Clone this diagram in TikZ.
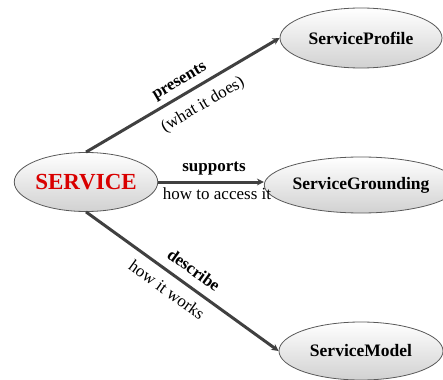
\documentclass[tikz,border=0pt]{standalone}
\usepackage{fontspec}
\setmainfont{Liberation Serif}
\usetikzlibrary{arrows.meta,shapes.geometric}
\begin{document}
\begin{tikzpicture}[x=1pt,y=-1pt,
  ell/.style={ellipse, draw=black!65, line width=0.8pt, top color=white, bottom color=black!18,
    inner sep=0pt, font=\fontsize{17.5}{20}\selectfont\bfseries},
  conn/.style={line width=3pt, draw=black!75, -{Stealth[length=7pt,width=7pt]}},
  lbl/.style={font=\fontsize{17}{20}\selectfont, inner sep=0pt},
  lblb/.style={font=\fontsize{17}{20}\selectfont\bfseries, inner sep=0pt}]
\useasboundingbox (0,0) rectangle (443,379);
\node[ell, minimum width=142pt, minimum height=59pt, text=red!85!black,
  font=\fontsize{23}{26}\selectfont\bfseries] (S) at (86,182) {SERVICE};
\node[ell, minimum width=162pt, minimum height=60pt] (P) at (361,38) {ServiceProfile};
\node[ell, minimum width=160pt, minimum height=56pt] (G) at (361,185) {ServiceGrounding};
\node[ell, minimum width=164pt, minimum height=58pt] (M) at (361,351) {ServiceModel};
\draw[conn] (S.north) -- (P.west);
\draw[conn] (S.east) -- (S.east -| G.west);
\draw[conn] (S.south) -- (M.west);
\node[lblb, rotate=30.5] (l1) at (180,82) {presents};
\node[lbl, rotate=30.5] (l2) at (203,105) {(what it does)};
\node[lblb] (l3) at (214,169) {supports};
\node[lbl] (l4) at (217,194) {how to access it};
\node[lblb, rotate=-35.8] (l5) at (194,270) {describe};
\node[lbl, rotate=-35.8] (l6) at (167,290) {how it works};
\end{tikzpicture}
\end{document}
